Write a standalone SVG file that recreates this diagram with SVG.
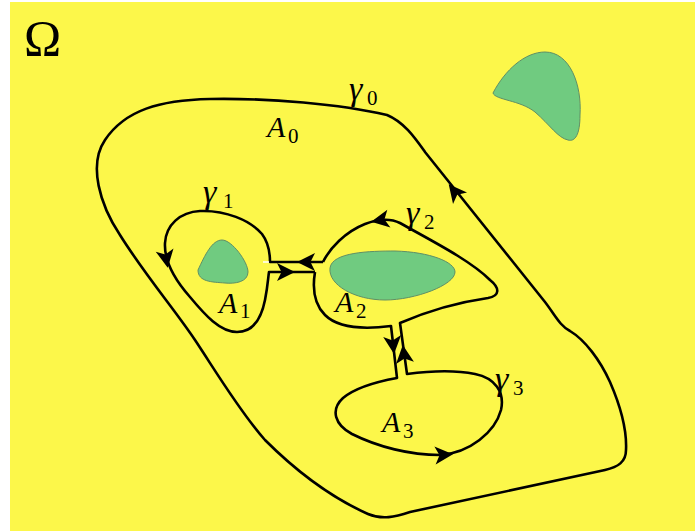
<svg xmlns="http://www.w3.org/2000/svg" xmlns:xlink="http://www.w3.org/1999/xlink" width="695" height="531" viewBox="0 0 695 531">
<style>
.curve{fill:none;stroke:#000;stroke-width:2.6;stroke-linejoin:round;stroke-linecap:butt}
.hole{fill:#70cb80;stroke:#5f8f66;stroke-width:1}
.lbl{font-family:"Liberation Serif","DejaVu Serif",serif;font-style:italic;font-size:30px;fill:#000}
.g{font-size:34px}
.sub{font-style:normal;font-size:21px}
</style>
<defs>
<path id="ah" d="M10,0 L-8,-9 L-3.5,0 L-8,9 Z" fill="#000"/>
</defs>
<rect x="0" y="0" width="695" height="531" fill="#fff"/>
<rect x="10" y="2" width="685" height="529" fill="#fcf74a"/>
<g id="holes">
<path id="hole0" class="hole" d="M493,93 C505,70 525,52 545,52 C570,52 582,85 580,115 C580,135 575,142 568,140 C558,138 550,125 535,112 C520,100 495,100 493,93 Z"/>
<path id="hole1" class="hole" d="M198,270 C205,255 212,240 222,240 C232,240 248,262 248,272 C248,282 235,284 225,283 C212,282 198,282 198,270 Z"/>
<path id="hole2" class="hole" d="M330,268 C332,252 370,251 395,251 C430,252 455,262 455,272 C455,285 415,300 385,300 C355,300 328,285 330,268 Z"/>
</g>
<g id="connectors">
<path id="gamma0" class="curve" d="M387,115 C404,122 415,138 425,152 L545,302 C555,315 560,326 570,331 C585,340 600,360 610,382 C620,405 627,430 626,450 C626,462 618,467 605,470 L410,512 C395,517 382,520 368,514 C330,497 295,470 265,440 C240,412 215,370 195,340 C175,310 145,275 120,235 C100,205 88,165 105,140 C125,110 160,100 210,99 C270,98 340,104 387,115 Z"/>
<path id="gamma1" class="curve" d="M323,262 L270,262 C270,250 268,242 262,234 C250,220 225,210 200,211 C180,212 166,225 165,243 C164,262 175,280 190,297 C205,315 220,332 237,332 C255,332 262,315 265,300 C268,285 268,278 269,272 L315,272"/>
<path id="gamma23" class="curve" d="M315,272 C312,290 315,305 325,315 C337,327 360,330 391,326 L397,378 C375,382 355,388 343,398 C330,410 335,425 352,434 C378,447 410,455 440,455 C470,453 495,432 501,410 C505,392 495,378 475,374 C455,370 430,371 407,374 L400,323 C430,310 460,302 488,298 C500,296 500,288 490,280 C470,260 430,240 400,223 C390,218 378,219 365,224 C345,232 330,248 323,262"/>
<line x1="263" y1="262" x2="269" y2="262" stroke="#fff" stroke-width="1.5"/>
<use xlink:href="#ah" href="#ah" transform="translate(455,192) rotate(-129)"/>
<use xlink:href="#ah" href="#ah" transform="translate(166,258) rotate(80)"/>
<use xlink:href="#ah" href="#ah" transform="translate(307,262) rotate(180)"/>
<use xlink:href="#ah" href="#ah" transform="translate(285,272) rotate(0)"/>
<use xlink:href="#ah" href="#ah" transform="translate(381,220) rotate(170)"/>
<use xlink:href="#ah" href="#ah" transform="translate(393,344) rotate(84)"/>
<use xlink:href="#ah" href="#ah" transform="translate(404,355) rotate(-97)"/>
<use xlink:href="#ah" href="#ah" transform="translate(443,455) rotate(-4)"/>
</g>
<g id="labels">
<text id="omega" x="24" y="55" font-family="Liberation Serif, DejaVu Serif, serif" font-size="50" fill="#000">Ω</text>
<text class="lbl" x="349" y="100"><tspan class="g">γ</tspan><tspan class="sub" x="367" y="105">0</tspan></text>
<text class="lbl" x="267" y="137">A<tspan class="sub" x="288" y="143">0</tspan></text>
<text class="lbl" x="203" y="203"><tspan class="g">γ</tspan><tspan class="sub" x="223" y="208">1</tspan></text>
<text class="lbl" x="219" y="313">A<tspan class="sub" x="240" y="318">1</tspan></text>
<text class="lbl" x="406" y="224"><tspan class="g">γ</tspan><tspan class="sub" x="424" y="229">2</tspan></text>
<text class="lbl" x="335" y="312">A<tspan class="sub" x="356" y="318">2</tspan></text>
<text class="lbl" x="495" y="390"><tspan class="g">γ</tspan><tspan class="sub" x="513" y="395">3</tspan></text>
<text class="lbl" x="382" y="432">A<tspan class="sub" x="403" y="438">3</tspan></text>
</g>
</svg>
